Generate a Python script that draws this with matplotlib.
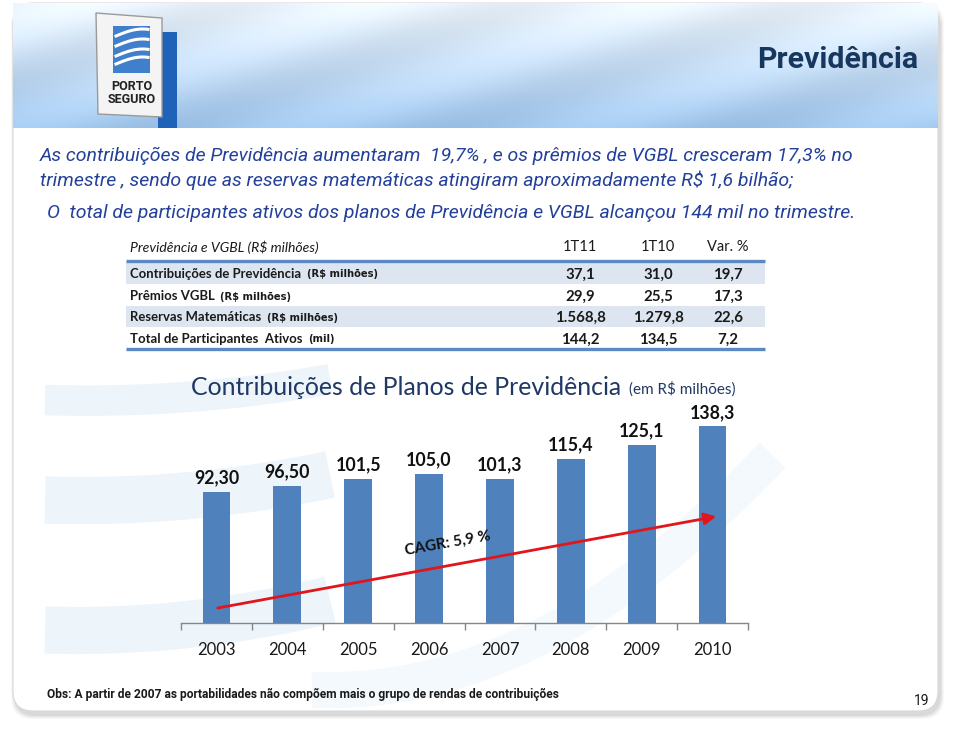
import numpy as np
import matplotlib
matplotlib.use("Agg")
import matplotlib.pyplot as plt
from matplotlib.patches import FancyBboxPatch, Rectangle, Polygon, FancyArrowPatch

# ---------------- data ----------------
years = ["2003", "2004", "2005", "2006", "2007", "2008", "2009", "2010"]
values = [92.30, 96.50, 101.5, 105.0, 101.3, 115.4, 125.1, 138.3]
value_labels = ["92,30", "96,50", "101,5", "105,0", "101,3", "115,4", "125,1", "138,3"]

table_header = ["Previdência e VGBL (R$ milhões)", "1T11", "1T10", "Var. %"]
row_names = ["Contribuições de Previdência", "Prêmios VGBL",
             "Reservas Matemáticas", "Total de Participantes  Ativos"]
row_units = ["(R$ milhões)", "(R$ milhões)", "(R$ milhões)", "(mil)"]
col_1t11 = ["37,1", "29,9", "1.568,8", "144,2"]
col_1t10 = ["31,0", "25,5", "1.279,8", "134,5"]
col_var = ["19,7", "17,3", "22,6", "7,2"]

text_lines = [
    "As contribuições de Previdência aumentaram  19,7% , e os prêmios de VGBL cresceram 17,3% no",
    "trimestre , sendo que as reservas matemáticas atingiram aproximadamente R$ 1,6 bilhão;",
    "O  total de participantes ativos dos planos de Previdência e VGBL alcançou 144 mil no trimestre.",
]
slide_title = "Previdência"
chart_title = "Contribuições de Planos de Previdência"
chart_unit = "(em R$ milhões)"
cagr_label = "CAGR: 5,9 %"
footnote = "Obs: A partir de 2007 as portabilidades não compõem mais o grupo de rendas de contribuições"
page_no = "19"

# ---------------- figure ----------------
W, H = 959, 729
fig = plt.figure(figsize=(W / 100, H / 100), dpi=100)
fig.patch.set_facecolor("white")
bg = fig.add_axes([0, 0, 1, 1])
bg.set_xlim(0, W)
bg.set_ylim(H, 0)
bg.axis("off")
bg.set_zorder(1)

NARROW = ["Roboto", "DejaVu Sans"]
SANS = ["Lato", "DejaVu Sans"]

renderer = fig.canvas.get_renderer()


def fit(t, width):
    bb = t.get_window_extent(renderer)
    t.set_fontsize(t.get_fontsize() * width / bb.width)
    return t.get_fontsize()


# slide frame with shadow
for i, a in enumerate([0.04, 0.05, 0.06, 0.08]):
    off = 4 - i
    bg.add_patch(FancyBboxPatch((13 - off + 2, 3 - off + 4), 925 + 2 * off, 708 + 2 * off,
                                boxstyle="round,pad=0,rounding_size=22",
                                fc=(0.3, 0.3, 0.3, a), ec="none", zorder=0))
bg.add_patch(FancyBboxPatch((13, 3), 925, 708, boxstyle="round,pad=0,rounding_size=20",
                            fc="white", ec="#d9d9d9", lw=0.8, zorder=0.5))

# faint background swooshes
sw_col = "#EDF5FB"
xs = np.linspace(45, 330, 200)
for y0, k, lw in [(400, 0.0006, 22), (500, 0.0007, 34), (630, 0.0008, 34)]:
    ys = y0 - k * (xs - 45) ** 2 * 0.6 + 0.03 * (xs - 45)
    bg.plot(xs, ys, color=sw_col, lw=lw, solid_capstyle="butt", zorder=0.6)
xs2 = np.linspace(330, 760, 200)
ys2 = 690 - 0.0012 * (xs2 - 330) ** 2
bg.plot(xs2, ys2, color="#F4F9FD", lw=26, zorder=0.6)

# banner gradient
bh, bw = 125, 925
yy, xx = np.mgrid[0:bh, 0:bw]
t = yy / bh
top = np.array([0.93, 0.96, 0.99])
bot = np.array([0.63, 0.78, 0.93])
img = top[None, None, :] * (1 - t[..., None]) + bot[None, None, :] * t[..., None]
stripe = 0.035 * np.sin((xx * 0.35 + yy * 1.0) / 16.0)
img = np.clip(img + stripe[..., None], 0, 1)
bg.imshow(img, extent=[13, 938, 128, 3], aspect="auto", zorder=1, interpolation="bilinear")

# logo
bg.add_patch(Rectangle((158, 32), 19, 96, fc="#1E63B8", ec="none", zorder=2))
bg.add_patch(Polygon([(96, 13), (162, 18), (162, 117), (98, 114)], closed=True,
                     fc="#F4F4F4", ec="#9a9a9a", lw=1.0, zorder=3))
bg.add_patch(Rectangle((113, 26), 37, 47, fc="#3F7FCB", ec="none", zorder=4))
for yo in [36, 46, 56, 64]:
    xc = np.linspace(116, 148, 40)
    bg.plot(xc, yo - 7 * np.sin((xc - 116) / 32 * np.pi * 0.6), color="white", lw=2.2, zorder=5)
bg.text(132, 86, "PORTO", ha="center", va="center", fontsize=9, weight="bold",
        color="#222222", family=NARROW, zorder=5)
bg.text(132, 99, "SEGURO", ha="center", va="center", fontsize=9, weight="bold",
        color="#222222", family=NARROW, zorder=5)

# slide title
tt = bg.text(918, 60, slide_title, ha="right", va="center", fontsize=17, weight="bold",
             color="#17375E", family=NARROW, zorder=5)
fit(tt, 161)

# intro lines
l1 = bg.text(40, 156, text_lines[0], ha="left", va="center", fontsize=14, style="italic",
             color="#23409A", family=NARROW, zorder=5)
fs = fit(l1, 816)
bg.text(40, 180, text_lines[1], ha="left", va="center", fontsize=fs, style="italic",
        color="#23409A", family=NARROW, zorder=5)
bg.text(47, 213, text_lines[2], ha="left", va="center", fontsize=fs, style="italic",
        color="#23409A", family=NARROW, zorder=5)

# ---------------- table ----------------
tx0, tx1 = 126, 765
col_x = [580, 658, 728]
row_y = [273.5, 296, 317, 338.5]
band_rows = [(262, 284), (306, 327)]
for y0, y1 in band_rows:
    bg.add_patch(Rectangle((tx0, y0), tx1 - tx0, y1 - y0, fc="#DDE6F0", ec="none", zorder=2))
bg.plot([tx0, tx1], [260.5, 260.5], color="#5B89C4", lw=2.4, zorder=3, solid_capstyle="butt")
bg.plot([tx0, tx1], [348.5, 348.5], color="#5B89C4", lw=2.4, zorder=3, solid_capstyle="butt")

th = bg.text(130, 247, table_header[0], ha="left", va="center", fontsize=9.5, style="italic",
             color="#1a1a1a", family=SANS, zorder=5)
fit(th, 190)
for cx, lab in zip(col_x, table_header[1:]):
    bg.text(cx, 247, lab, ha="center", va="center", fontsize=10.5, color="#1a1a1a",
            family=SANS, zorder=5)

name_fs = None
num_fs = None
num_texts = []
for i, (nm, un, a, b, c) in enumerate(zip(row_names, row_units, col_1t11, col_1t10, col_var)):
    y = row_y[i]
    tn = bg.text(130.5, y, nm, ha="left", va="center", fontsize=10, weight="bold",
                 color="#1a1a1a", family=SANS, zorder=5)
    if name_fs is None:
        name_fs = fit(tn, 172)
    tn.set_fontsize(name_fs)
    bb = tn.get_window_extent(renderer)
    bg.text(bb.x1 + 5, y + 0.5, un, ha="left", va="center", fontsize=7.2, weight="bold",
            color="#1a1a1a", family=["DejaVu Sans"], zorder=5)
    for cx, v in zip(col_x, [a, b, c]):
        tv = bg.text(cx, y + 1, v, ha="center", va="center", fontsize=10.5, weight="bold",
                     color="#1a1a1a", family=SANS, zorder=5)
        num_texts.append(tv)
        if v == "1.568,8":
            num_fs = fit(tv, 51)
for t_ in num_texts:
    t_.set_fontsize(num_fs)

ct = bg.text(191, 387, chart_title, ha="left", va="center", fontsize=18, color="#1F3864",
             family=SANS, zorder=5)
fit(ct, 430)
bb = ct.get_window_extent(renderer)
bg.text(bb.x1 + 8, 389, chart_unit, ha="left", va="center", fontsize=11, color="#1F3864",
        family=SANS, zorder=5)

# footnote & page number
fn = bg.text(47, 694, footnote, ha="left", va="center", fontsize=9, weight="bold",
             color="#1a1a1a", family=NARROW, zorder=5)
fit(fn, 513)
bg.text(922, 701, page_no, ha="center", va="center", fontsize=10, color="#1a1a1a",
        family=NARROW, zorder=5)

# ---------------- chart ----------------
ax_left, ax_right, ax_base = 181, 748, 622.7
px_per_unit = 1.42
ymax = 170
ax = fig.add_axes([ax_left / W, (H - ax_base) / H, (ax_right - ax_left) / W,
                   ymax * px_per_unit / H])
ax.patch.set_alpha(0)
ax.set_zorder(3)
x = np.arange(len(years))
bars = ax.bar(x, values, width=0.39, color="#4F81BD", zorder=2)
ax.set_xlim(-0.5, len(years) - 0.5)
ax.set_ylim(0, ymax)
for s in ["top", "right", "left"]:
    ax.spines[s].set_visible(False)
ax.spines["bottom"].set_color("#868686")
ax.spines["bottom"].set_linewidth(1.0)
ax.set_yticks([])
ax.set_xticks(x)
ax.set_xticklabels(years, fontsize=12, family=SANS, color="#1a1a1a")
ax.tick_params(axis="x", which="major", length=0, pad=14)
ax.set_xticks(np.arange(-0.5, len(years)), minor=True)
ax.tick_params(axis="x", which="minor", length=5, color="#868686", width=1.0)
ax.bar_label(bars, labels=value_labels, padding=4, fontsize=12.8, weight="bold",
             family=SANS, color="#111111")

# overlay for CAGR arrow
ov = fig.add_axes([0, 0, 1, 1])
ov.set_xlim(0, W)
ov.set_ylim(H, 0)
ov.axis("off")
ov.patch.set_alpha(0)
ov.set_zorder(5)
arr = FancyArrowPatch((215, 608.5), (719, 516), arrowstyle="-|>,head_length=7,head_width=3.5",
                      color="#E0161C", lw=2.0, zorder=6, mutation_scale=1)
ov.add_patch(arr)
ov.text(448, 543, cagr_label, ha="center", va="center", rotation=10, fontsize=11,
        weight="bold", color="#111111", family=SANS, zorder=7, rotation_mode="anchor")

fig.savefig("out.png", dpi=100, facecolor="white")
